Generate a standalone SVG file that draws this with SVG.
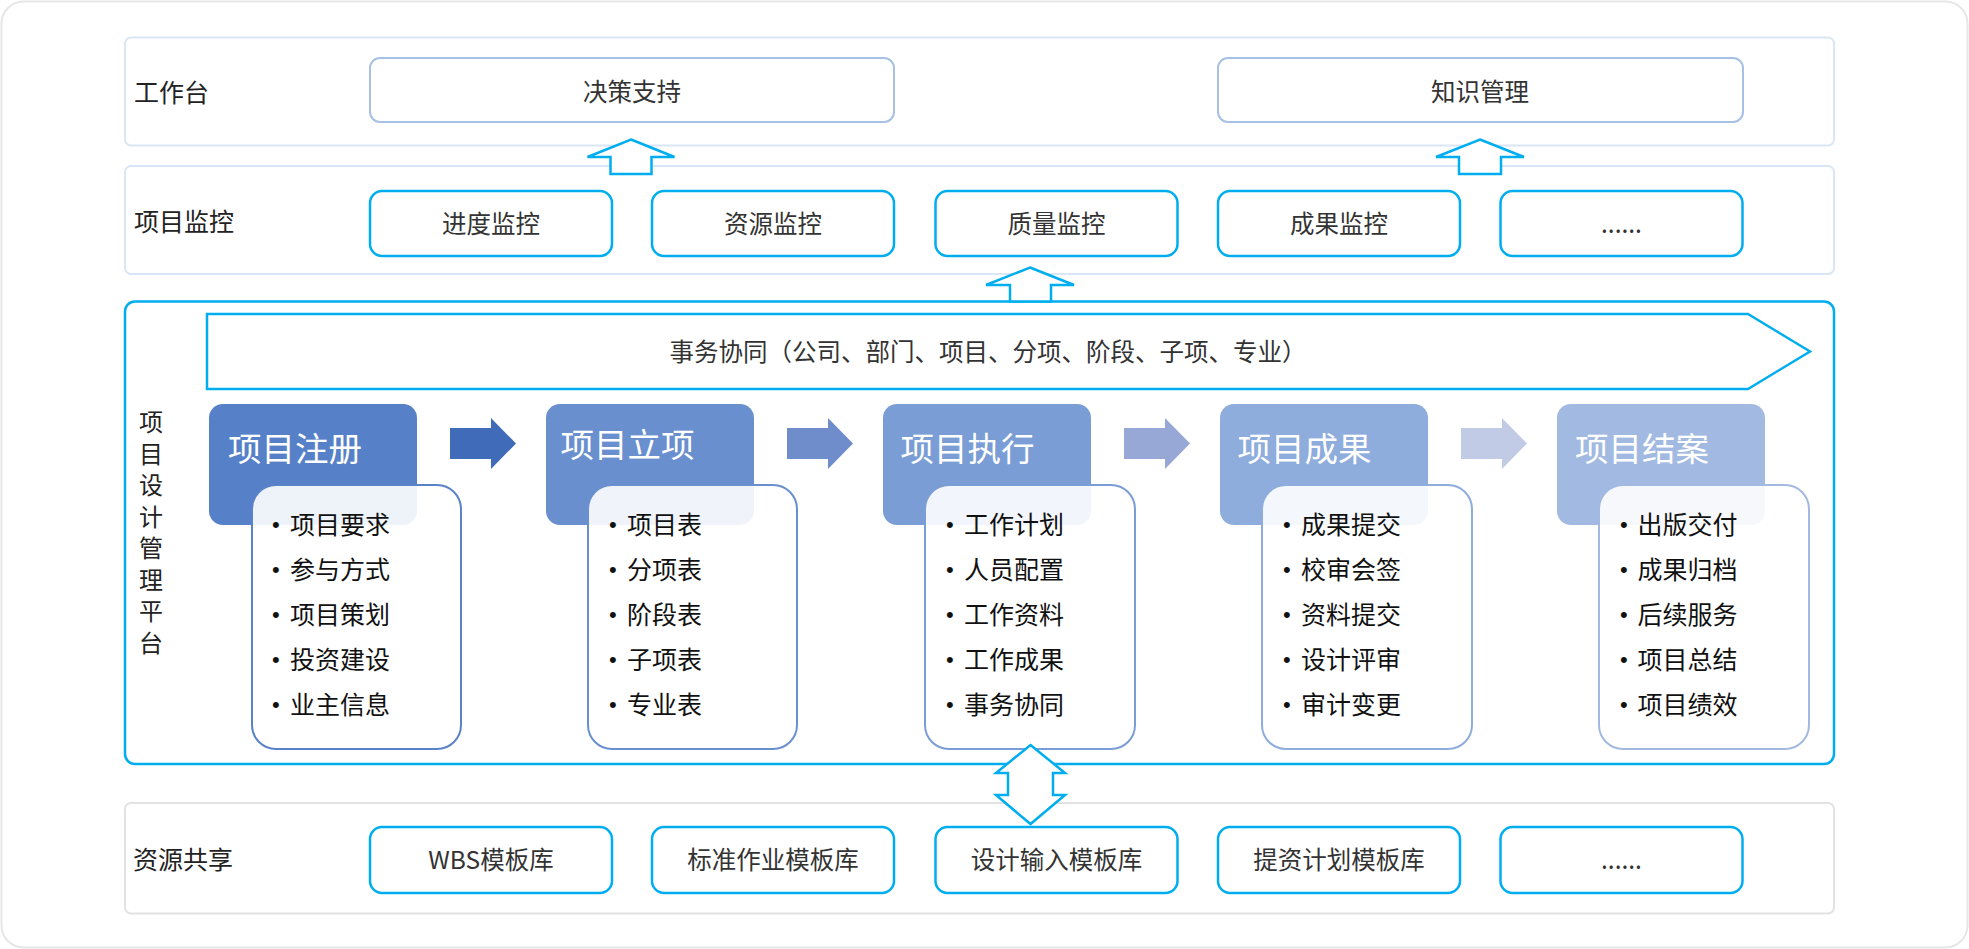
<svg xmlns="http://www.w3.org/2000/svg" width="1969" height="949" viewBox="0 0 1969 949">
<style>
text{font-family:"Noto Sans CJK SC","Noto Sans",sans-serif;}
.lbl{font-size:25px;fill:#222;}
.vl{font-size:24px;fill:#222;writing-mode:vertical-rl;letter-spacing:7.5px;}
.box{font-size:24.5px;fill:#333;text-anchor:middle;}
.row{fill:#fff;stroke-width:2;}
.cy{fill:#fff;stroke:#00aeef;stroke-width:2.5;}
.hd{font-size:33.5px;fill:#fff;}
.it{font-size:25px;fill:#111;}
.bu{font-family:"Liberation Sans",sans-serif;font-size:22px;}
.card{fill:#fff;fill-opacity:0.9;stroke-width:2;}
.hol{fill:#fff;stroke:#00aeef;stroke-width:2.5;stroke-linejoin:miter;}
</style>
<rect x="1.5" y="1.5" width="1966" height="946" rx="22" fill="#fff" stroke="#e6e6e6" stroke-width="2"/>

<g id="row-workbench">
<rect class="row" x="125" y="37.5" width="1709" height="108" rx="6" stroke="#dae6f4"/>
<text class="lbl" x="134" y="102">工作台</text>
</g>
<g id="n-decision">
<rect x="370" y="58" width="524" height="64" rx="10" fill="#fff" stroke="#a6c1e4" stroke-width="2"/>
<text class="box" x="632" y="101.3">决策支持</text>
</g>
<g id="n-knowledge">
<rect x="1218" y="58" width="525" height="64" rx="10" fill="#fff" stroke="#a6c1e4" stroke-width="2"/>
<text class="box" x="1480" y="101.3">知识管理</text>
</g>

<g id="row-monitor">
<rect class="row" x="125" y="166" width="1709" height="108" rx="6" stroke="#dae6f4"/>
<text class="lbl" x="134" y="230.5">项目监控</text>
</g>
<g id="n-m1"><rect class="cy" x="370" y="191" width="242" height="65" rx="12"/><text class="box" x="491" y="232.8">进度监控</text></g>
<g id="n-m2"><rect class="cy" x="652" y="191" width="242" height="65" rx="12"/><text class="box" x="773" y="232.8">资源监控</text></g>
<g id="n-m3"><rect class="cy" x="935.5" y="191" width="242" height="65" rx="12"/><text class="box" x="1056.5" y="232.8">质量监控</text></g>
<g id="n-m4"><rect class="cy" x="1218" y="191" width="242" height="65" rx="12"/><text class="box" x="1339" y="232.8">成果监控</text></g>
<g id="n-m5"><rect class="cy" x="1500.5" y="191" width="242" height="65" rx="12"/><text class="box" x="1621.5" y="232.8">......</text></g>

<g id="row-platform">
<rect x="125" y="301.5" width="1709" height="462.5" rx="10" fill="#fff" stroke="#00aeef" stroke-width="2.5"/>
<text class="vl" x="151" y="410">项目设计管理平台</text>
</g>
<g id="n-banner">
<polygon class="hol" points="207,314 1748,314 1810,351.5 1748,389 207,389"/>
<text class="box" x="988" y="360.8">事务协同（公司、部门、项目、分项、阶段、子项、专业）</text>
</g>

<g id="n-stage1">
<rect x="209" y="404" width="208" height="121" rx="14" fill="#5681c9"/>
<text class="hd" x="228" y="460.7">项目注册</text>
<rect class="card" x="252" y="485" width="209" height="264" rx="24" stroke="#5a82c9"/>
<text class="it"><tspan class="bu" x="272" y="532">•</tspan><tspan x="290" y="534">项目要求</tspan><tspan class="bu" x="272" y="577">•</tspan><tspan x="290" y="579">参与方式</tspan><tspan class="bu" x="272" y="622">•</tspan><tspan x="290" y="624">项目策划</tspan><tspan class="bu" x="272" y="667">•</tspan><tspan x="290" y="669">投资建设</tspan><tspan class="bu" x="272" y="712">•</tspan><tspan x="290" y="714">业主信息</tspan></text>
</g>
<g id="n-stage2">
<rect x="546" y="404" width="208" height="121" rx="14" fill="#6a8fce"/>
<text class="hd" x="560.5" y="456.7">项目立项</text>
<rect class="card" x="588" y="485" width="209" height="264" rx="24" stroke="#6a8fce"/>
<text class="it"><tspan class="bu" x="609" y="532">•</tspan><tspan x="627" y="534">项目表</tspan><tspan class="bu" x="609" y="577">•</tspan><tspan x="627" y="579">分项表</tspan><tspan class="bu" x="609" y="622">•</tspan><tspan x="627" y="624">阶段表</tspan><tspan class="bu" x="609" y="667">•</tspan><tspan x="627" y="669">子项表</tspan><tspan class="bu" x="609" y="712">•</tspan><tspan x="627" y="714">专业表</tspan></text>
</g>
<g id="n-stage3">
<rect x="883" y="404" width="208" height="121" rx="14" fill="#7b9dd5"/>
<text class="hd" x="900.5" y="460.7">项目执行</text>
<rect class="card" x="925" y="485" width="210" height="264" rx="24" stroke="#7b9dd5"/>
<text class="it"><tspan class="bu" x="946" y="532">•</tspan><tspan x="964" y="534">工作计划</tspan><tspan class="bu" x="946" y="577">•</tspan><tspan x="964" y="579">人员配置</tspan><tspan class="bu" x="946" y="622">•</tspan><tspan x="964" y="624">工作资料</tspan><tspan class="bu" x="946" y="667">•</tspan><tspan x="964" y="669">工作成果</tspan><tspan class="bu" x="946" y="712">•</tspan><tspan x="964" y="714">事务协同</tspan></text>
</g>
<g id="n-stage4">
<rect x="1220" y="404" width="208" height="121" rx="14" fill="#8eacdc"/>
<text class="hd" x="1237.5" y="460.7">项目成果</text>
<rect class="card" x="1262" y="485" width="210" height="264" rx="24" stroke="#8eacdc"/>
<text class="it"><tspan class="bu" x="1283" y="532">•</tspan><tspan x="1301" y="534">成果提交</tspan><tspan class="bu" x="1283" y="577">•</tspan><tspan x="1301" y="579">校审会签</tspan><tspan class="bu" x="1283" y="622">•</tspan><tspan x="1301" y="624">资料提交</tspan><tspan class="bu" x="1283" y="667">•</tspan><tspan x="1301" y="669">设计评审</tspan><tspan class="bu" x="1283" y="712">•</tspan><tspan x="1301" y="714">审计变更</tspan></text>
</g>
<g id="n-stage5">
<rect x="1557" y="404" width="208" height="121" rx="14" fill="#a2b9e1"/>
<text class="hd" x="1575" y="460.7">项目结案</text>
<rect class="card" x="1599" y="485" width="210" height="264" rx="24" stroke="#a3b9e1"/>
<text class="it"><tspan class="bu" x="1620" y="532">•</tspan><tspan x="1637.5" y="534">出版交付</tspan><tspan class="bu" x="1620" y="577">•</tspan><tspan x="1637.5" y="579">成果归档</tspan><tspan class="bu" x="1620" y="622">•</tspan><tspan x="1637.5" y="624">后续服务</tspan><tspan class="bu" x="1620" y="667">•</tspan><tspan x="1637.5" y="669">项目总结</tspan><tspan class="bu" x="1620" y="712">•</tspan><tspan x="1637.5" y="714">项目绩效</tspan></text>
</g>

<g id="row-resource">
<rect class="row" x="125" y="803" width="1709" height="110.5" rx="6" stroke="#e2e2e2"/>
<text class="lbl" x="133" y="868.5">资源共享</text>
</g>
<g id="n-r1"><rect class="cy" x="370" y="827" width="242" height="66" rx="12"/><text class="box" x="491" y="869.3">WBS模板库</text></g>
<g id="n-r2"><rect class="cy" x="652" y="827" width="242" height="66" rx="12"/><text class="box" x="773" y="869.3">标准作业模板库</text></g>
<g id="n-r3"><rect class="cy" x="935.5" y="827" width="242" height="66" rx="12"/><text class="box" x="1056.5" y="869.3">设计输入模板库</text></g>
<g id="n-r4"><rect class="cy" x="1218" y="827" width="242" height="66" rx="12"/><text class="box" x="1339" y="869.3">提资计划模板库</text></g>
<g id="n-r5"><rect class="cy" x="1500.5" y="827" width="242" height="66" rx="12"/><text class="box" x="1621.5" y="869.3">......</text></g>

<g id="connectors">
<polygon class="hol" points="631,139.5 674.5,157 651.5,157 651.5,174 610.5,174 610.5,157 587.5,157"/>
<polygon class="hol" points="1480,139.5 1524,157 1501,157 1501,174 1459,174 1459,157 1436,157"/>
<polygon class="hol" points="1030,267.5 1074,285 1051,285 1051,301.5 1010,301.5 1010,285 986,285"/>
<polygon fill="#3f6bb8" points="450,428 491,428 491,418 516,443.5 491,469 491,459 450,459"/>
<polygon fill="#6f8dcb" points="787,428 828,428 828,418 853,443.5 828,469 828,459 787,459"/>
<polygon fill="#97a8d6" points="1124,428 1165,428 1165,418 1190,443.5 1165,469 1165,459 1124,459"/>
<polygon fill="#c1cbe6" points="1461,428 1502,428 1502,418 1527,443.5 1502,469 1502,459 1461,459"/>
<polygon class="hol" points="1030.5,745 1065,773 1053,773 1053,795 1065,795 1030.5,824 996,795 1008,795 1008,773 996,773"/>
</g>
</svg>
